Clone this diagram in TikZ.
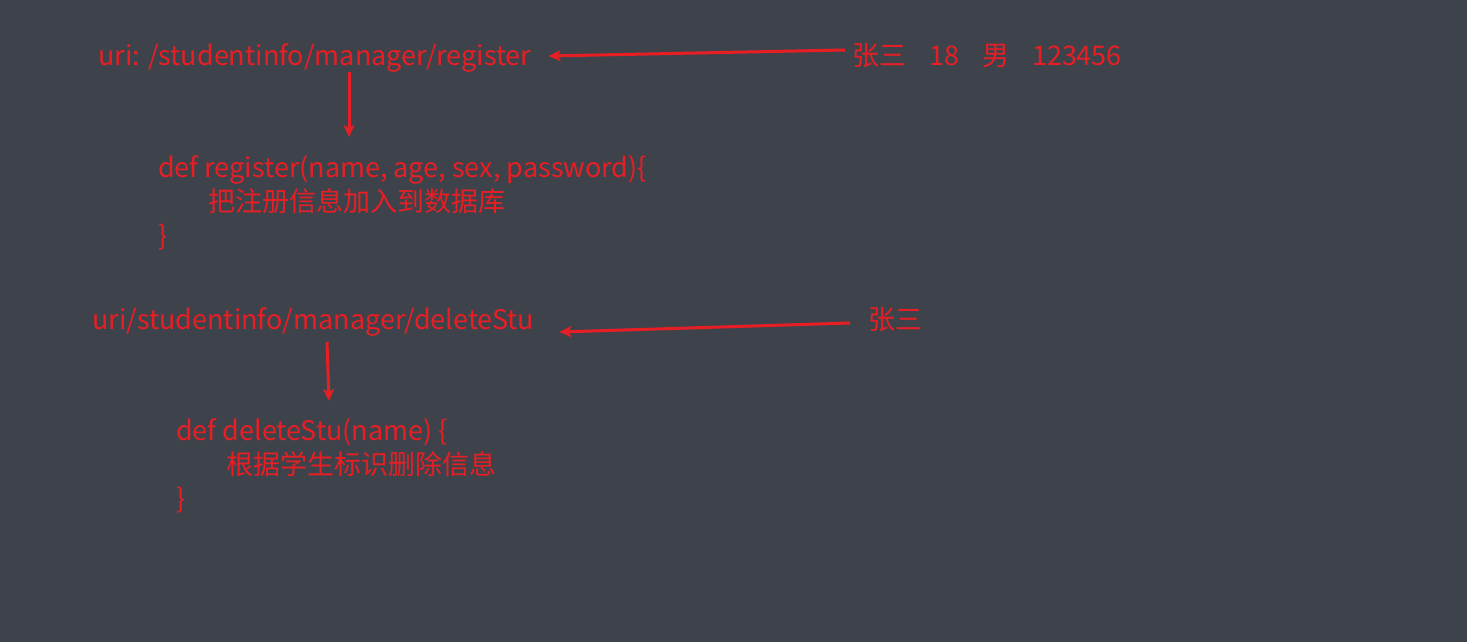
\documentclass[tikz,border=0pt]{standalone}
\usepackage{fontspec}
\setmainfont{Noto Sans CJK SC}
\usetikzlibrary{arrows.meta,calc}
\definecolor{bg}{RGB}{62,67,75}
\definecolor{ink}{RGB}{232,30,37}
\tikzset{
  txt/.style={inner sep=0pt, anchor=base west, text=ink, font=\fontsize{27}{31}\selectfont},
  arr/.style={draw=ink, line width=3pt, -{Stealth[length=12pt,width=11pt,inset=3pt]}},
}
\begin{document}
\begin{tikzpicture}[x=1pt,y=-1pt]
\fill[bg] (0,0) rectangle (1467,642);
\useasboundingbox (0,0) rectangle (1467,642);
% group 1
\node[txt] (uri1) at (98,66) {uri: /studentinfo/manager/register};
\node[txt] (in1) at (852,66) {张三\hspace{0.85em}18\hspace{0.85em}男\hspace{0.85em}123456};
\node[txt] (def1) at (158,177) {def register(name, age, sex, password)\{};
\node[txt] (body1) at (208,211) {把注册信息加入到数据库};
\node[txt] (end1) at (158,245) {\}};
% group 2
\node[txt] (uri2) at (92,329) {uri/studentinfo/manager/deleteStu};
\node[txt] (in2) at (868,329) {张三};
\node[txt] (def2) at (176,440) {def deleteStu(name) \{};
\node[txt] (body2) at (226,474) {根据学生标识删除信息};
\node[txt] (end2) at (176,508) {\}};
% arrows
\draw[arr] ([shift={(-7,-16)}]in1.base west) -- ([shift={(17,-10)}]uri1.base east);
\draw[arr] ([shift={(251,6)}]uri1.base west) -- ([shift={(191,-40)}]def1.base west);
\draw[arr] ([shift={(-18,-6)}]in2.base west) -- ([shift={(25,3)}]uri2.base east);
\draw[arr] ([shift={(235,13)}]uri2.base west) -- ([shift={(153,-39)}]def2.base west);
\end{tikzpicture}
\end{document}
